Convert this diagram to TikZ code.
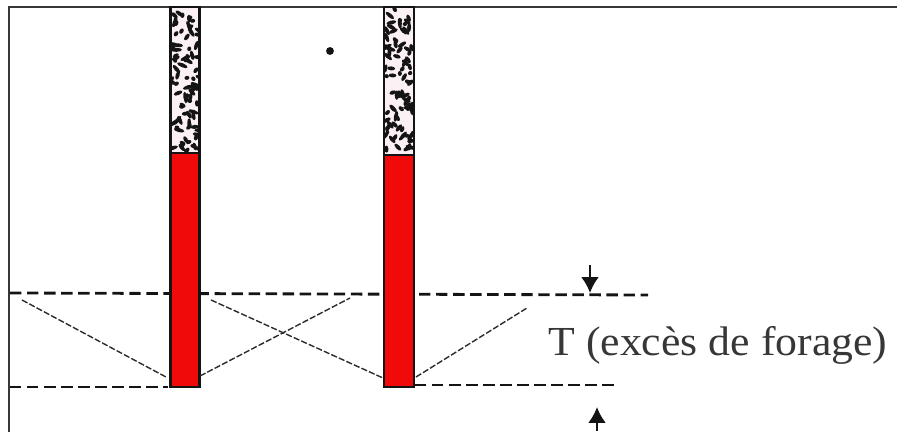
\documentclass[tikz,border=0pt]{standalone}
\usepackage{xcolor}
\usepackage{fontspec}
\setmainfont{Liberation Serif}
\usetikzlibrary{arrows.meta,positioning}
\definecolor{tubage}{HTML}{F00A0A}
\definecolor{ciment}{HTML}{FBF0F3}
\definecolor{encre}{HTML}{141414}
\tikzset{
  pieu/.style={draw=encre,line width=1.5pt,fill=tubage,inner sep=0pt,minimum width=0.58cm,outer sep=0pt},
  beton/.style={pieu,fill=ciment},
  niveau/.style={draw=encre,line width=1.6pt,dash pattern=on 6.5pt off 3.2pt},
  talus/.style={draw=encre!90,line width=0.8pt,dash pattern=on 3.5pt off 1.2pt},
  cote/.style={draw=encre,line width=1.3pt,-{Latex[length=3.2mm,width=3.6mm]}},
  cadre/.style={draw=encre!85,line width=0.9pt},
  legende/.style={font=\fontsize{23.5}{26}\selectfont,text=encre!85,inner sep=0pt,anchor=west},
  tache/.style={fill=encre,draw=none},
}
\begin{document}
\begin{tikzpicture}[x=0.02cm,y=-0.02cm]
  \useasboundingbox (0,0) rectangle (897,432);
  % cadre
  \coordinate (c0) at (9,432);
  \coordinate (c1) at (9,7);
  \coordinate (c2) at (897,7);
  \draw[cadre] (c0)--(c1)--(c2);
  % niveaux
  \coordinate (h0) at (10,293);
  \coordinate (h1) at (648,295);
  \coordinate (b0) at (10,387);
  \coordinate (b1) at (168,387);
  \coordinate (b2) at (415,385);
  \coordinate (b3) at (617,385);
  \draw[niveau] (h0)--(h1);
  \draw[niveau] (b0)--(b1);
  \draw[niveau] (b2)--(b3);
  % pieux
  \node[pieu,minimum height=4.68cm] (r1) at (185,270) {};
  \node[beton,minimum height=2.92cm,above=0pt of r1] (m1) {};
  \node[pieu,minimum width=0.6cm,minimum height=4.64cm] (r2) at (399,271) {};
  \node[beton,minimum width=0.6cm,minimum height=2.96cm,above=0pt of r2] (m2) {};
  % granulats
  \pgfmathsetseed{1847}
  \foreach \m in {m1,m2}{
    \begin{scope}
      \clip (\m.north west) rectangle (\m.south east);
      \begin{scope}[shift={(\m.north west)}]
        \foreach \i in {1,...,85}{
          \pgfmathsetmacro{\px}{1+rnd*28}
          \pgfmathsetmacro{\py}{2+rnd*142}
          \pgfmathsetmacro{\ang}{rnd*180}
          \pgfmathsetmacro{\la}{2.2+rnd*3.6}
          \fill[tache,rotate around={\ang:(\px,\py)}] (\px,\py) ellipse ({\la} and 2);
        }
      \end{scope}
    \end{scope}
  }
  \draw[encre,line width=1.7pt] (m1.north west)--(m1.south west) (m1.north east)--(m1.south east);
  \draw[encre,line width=1.7pt] (m2.north west)--(m2.south west) (m2.north east)--(m2.south east);
  % talus
  \coordinate (t1) at (22,300);
  \coordinate (t2) at (166,377);
  \coordinate (t3) at (200,376);
  \coordinate (t4) at (350,298);
  \coordinate (t5) at (211,300);
  \coordinate (t6) at (383,378);
  \coordinate (t7) at (416,377);
  \coordinate (t8) at (527,308);
  \foreach \a/\b in {t1/t2,t3/t4,t5/t6,t7/t8}
    \draw[talus] (\a)--(\b);
  % point
  \node[tache,circle,inner sep=0pt,minimum size=4.5pt] (pt) at (330,51) {};
  % cotes
  \coordinate (a0) at (590,265);
  \coordinate (a1) at (590,293);
  \coordinate (a2) at (597,431);
  \coordinate (a3) at (597,407);
  \draw[cote] (a0)--(a1);
  \draw[cote] (a2)--(a3);
  \node[legende] (txt) at (548,345) {\scalebox{1.06}[1]{T (excès de forage)}};
\end{tikzpicture}
\end{document}
